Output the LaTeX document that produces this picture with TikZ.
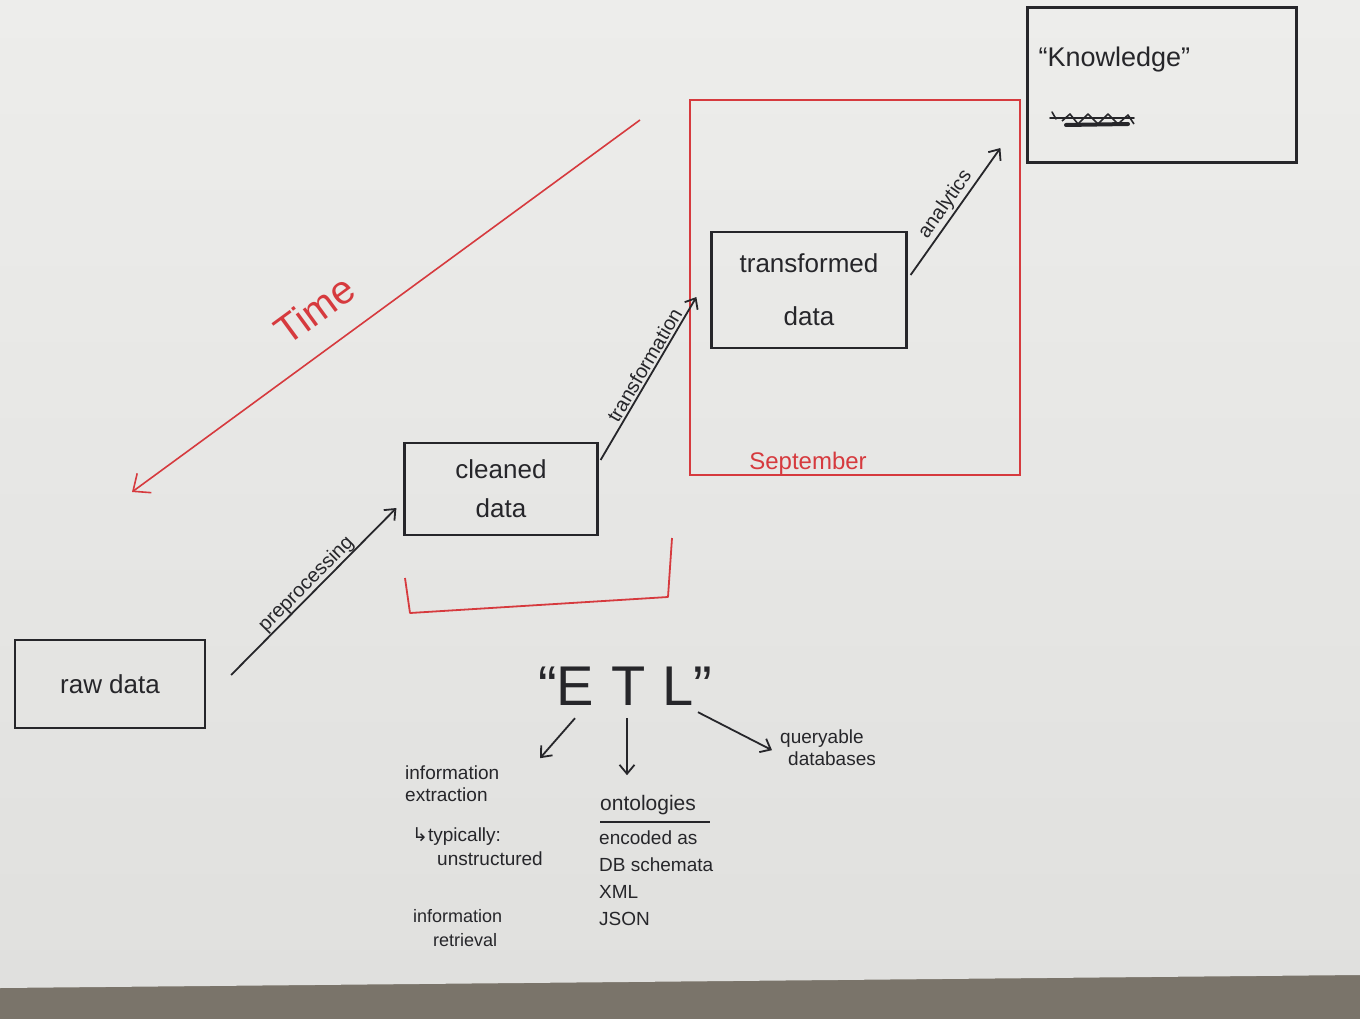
\documentclass[tikz,border=0pt]{standalone}
\usepackage{fontspec}
\setmainfont{Liberation Sans}
\newfontfamily\symfont{DejaVu Sans}
\usetikzlibrary{arrows.meta,positioning,calc}

\definecolor{paper}{RGB}{233,233,231}
\definecolor{papertop}{RGB}{237,237,235}
\definecolor{paperlow}{RGB}{224,224,222}
\definecolor{tabletop}{RGB}{122,116,106}
\definecolor{pen}{RGB}{38,38,42}
\definecolor{redpen}{RGB}{214,58,62}

\tikzset{
  box/.style={draw=pen, line width=2.2pt, inner sep=0pt, text=pen, align=center,
    font=\fontsize{26}{39}\selectfont},
  redbox/.style={draw=redpen, line width=1.8pt},
  flow/.style={draw=pen, line width=1.8pt, -{Straight Barb[length=9pt,width=15pt]}},
  timeflow/.style={draw=redpen, line width=1.6pt, {Straight Barb[length=14pt,width=24pt]}-},
  lbl/.style={font=\fontsize{20}{22}\selectfont, text=pen, sloped, above, inner sep=2pt},
  note/.style={font=\fontsize{19}{22}\selectfont, text=pen, align=left, inner sep=0pt, anchor=north west},
}

\begin{document}
\begin{tikzpicture}[x=1pt,y=1pt]
% Paper and table
\useasboundingbox (0,0) rectangle (1360,-1019);
\fill[tabletop] (0,-1019) rectangle (1360,-960);
\shade[top color=papertop, bottom color=paperlow] (0,0) -- (1360,0) -- (1360,-975) -- (0,-988) -- cycle;

% Data boxes
\node (raw) [box, minimum width=190pt, minimum height=88pt] at (110,-684) {raw data};
\node (clean) [box, minimum width=193pt, minimum height=92pt] at (501,-489) {cleaned\\data};
\node (trans) [box, minimum width=195pt, minimum height=116pt] at (809,-290) {transformed\\[14pt]data};
\node (know) [box, minimum width=269pt, minimum height=155pt] at (1162,-85) {};
\node (knowtxt) [below right=40pt and 12pt of know.north west, inner sep=0pt, text=pen,
  font=\fontsize{27}{30}\selectfont] {“Knowledge”};

% Crossed-out word
\draw[pen, line width=1.6pt, line cap=round] (1052,-112) -- (1056,-119);
\draw[pen, line width=1.6pt, line cap=round] (1050,-118) -- (1134,-118);
\draw[pen, line width=1.6pt, line join=round] (1062,-121) -- (1070,-114) -- (1078,-124) -- (1088,-114)
  -- (1098,-124) -- (1108,-114) -- (1118,-124) -- (1128,-115) -- (1134,-124);
\draw[pen, line width=4pt, line cap=round] (1066,-125) -- (1128,-124);

% September box
\node (sept) [redbox, minimum width=330pt, minimum height=375pt, inner sep=0pt] at (855,-287.5) {};
\node (septlbl) [above right=1pt and 60pt of sept.south west, inner sep=0pt, text=redpen,
  font=\fontsize{24}{26}\selectfont] {September};

% Bracket under cleaned data
\draw[redbox, line join=round] (405,-578) -- (410,-613) -- (668,-597) -- (672,-538);

% Arrows between stages
\coordinate (pre-s) at ($(raw.east)+(25,9)$);
\coordinate (pre-e) at ($(clean.west)+(-7,-19)$);
\draw[flow] (pre-s) -- node[lbl, pos=0.5, inner sep=0pt] {preprocessing} (pre-e);

\coordinate (tr-s) at ($(clean.east)+(2,29)$);
\coordinate (tr-e) at ($(trans.west)+(-14,-7)$);
\draw[flow] (tr-s) -- node[lbl, pos=0.55] {transformation} (tr-e);

\coordinate (an-s) at ($(trans.east)+(3,15)$);
\coordinate (an-e) at ($(know.west)+(-26,-63)$);
\draw[flow] (an-s) -- node[lbl, pos=0.5] {analytics} (an-e);

% Time
\coordinate (time-e) at (132,-492);
\coordinate (time-s) at (640,-120);
\draw[timeflow] (time-e) -- node[sloped, above=24pt, pos=0.405, text=redpen, inner sep=0pt,
  font=\fontsize{40}{42}\selectfont] {Time} (time-s);

% ETL
\node (etl) [anchor=base, inner sep=0pt, text=pen, font=\fontsize{56}{60}\selectfont]
  at (625,-705) {“E\hspace{0.3em}T\hspace{0.3em}L”};

\node (infoex) [note] at (405,-766) {information\\extraction};
\node (typ) [note] at (412,-827) {{\symfont ↳}typically:\\[2pt]\hspace*{25pt}unstructured};
\node (inforet) [note, font=\fontsize{18}{24}\selectfont] at (413,-909) {information\\\hspace*{20pt}retrieval};
\node (onto) [note, font=\fontsize{21}{24}\selectfont] at (600,-795) {ontologies};
\node (enc) [note, font=\fontsize{19}{27}\selectfont] at (599,-831) {encoded as\\DB schemata\\XML\\JSON};
\node (query) [note] at (780,-730) {queryable\\\hspace*{8pt}databases};

\draw[pen, line width=1.8pt] ($(onto.south west)+(0,-7)$) -- ($(onto.south east)+(14,-7)$);

\draw[flow] ($(etl.south)+(-50,-13)$) -- ($(etl.south)+(-85,-53)$);
\draw[flow] ($(etl.south)+(2,-13)$) -- ($(etl.south)+(2,-70)$);
\draw[flow] ($(etl.south)+(73,-7)$) -- ($(query.west)+(-8,-2)$);
\end{tikzpicture}
\end{document}
